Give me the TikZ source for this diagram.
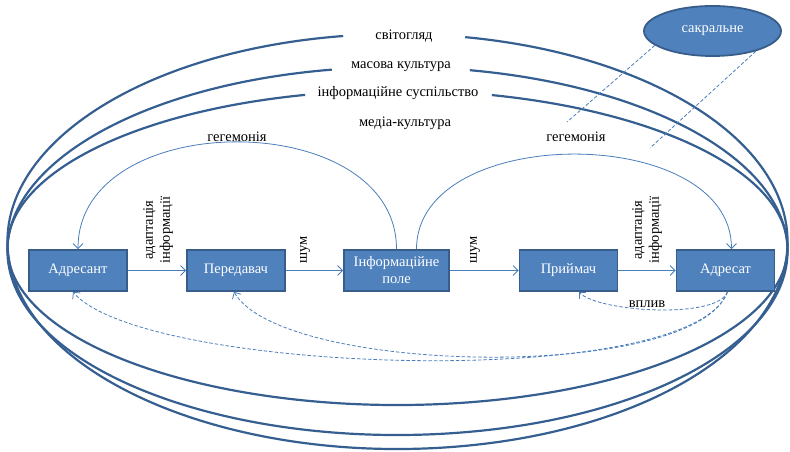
\documentclass[tikz,border=0pt]{standalone}
\usepackage{fontspec}
\setmainfont{Liberation Serif}
\usetikzlibrary{positioning, arrows.meta, shapes.geometric}

\definecolor{boxfill}{RGB}{79,129,189}
\definecolor{boxline}{RGB}{56,93,138}
\definecolor{ringline}{RGB}{54,95,145}
\definecolor{linkline}{RGB}{74,126,187}

\newcommand{\labfont}{\fontsize{14.5}{17}\selectfont}

\begin{document}
\begin{tikzpicture}[
  x=1pt, y=1pt,
  box/.style={draw=boxline, fill=boxfill, line width=1.8pt, minimum width=98pt, minimum height=41pt, align=center, text=white, font=\labfont},
  label/.style={font=\labfont, inner sep=1pt},
  vlabel/.style={font=\labfont, rotate=90, align=center, inner sep=1pt},
  ring/.style={draw=ringline, line width=2.2pt},
  arrow/.style={-{Straight Barb[length=5pt, width=10pt]}, draw=linkline, line width=0.8pt},
  dlink/.style={arrow, dash pattern=on 3.5pt off 2pt}
]
  \useasboundingbox (0,0) rectangle (790,452);

  % outer rings
  \coordinate (ringA) at (397.5,210.5);
  \coordinate (ringB) at (397.5,201);
  \coordinate (ringC) at (397.5,204.3);
  \draw[ring] (ringA) ++(98:390pt and 207.5pt) arc[start angle=98, end angle=440, x radius=390pt, y radius=207.5pt];
  \draw[ring] (ringB) ++(99.7:390pt and 184pt) arc[start angle=99.7, end angle=439.3, x radius=390pt, y radius=184pt];
  \draw[ring] (ringC) ++(103.7:390pt and 157.3pt) arc[start angle=103.7, end angle=436, x radius=390pt, y radius=157.3pt];

  % ring labels
  \node[label] (world) at (404,416) {світогляд};
  \node[label] (mass) at (401,385) {масова культура};
  \node[label] (soc) at (398,359) {інформаційне суспільство};
  \node[label] (media) at (405,329) {медіа-культура};

  % sacral
  \node[ellipse, draw=boxline, fill=boxfill, line width=1.8pt, minimum width=137pt, minimum height=50pt, text=white, font=\labfont] (sacr) at (712.5,421) {сакральне};
  \coordinate (sacrA) at (567,330);
  \coordinate (sacrB) at (650,304);
  \draw[draw=linkline, line width=0.8pt, dash pattern=on 3.5pt off 2pt] (sacr.194) -- (sacrA);
  \draw[draw=linkline, line width=0.8pt, dash pattern=on 3.5pt off 2pt] (sacr.-25) -- (sacrB);

  % chain of boxes
  \node[box] (adr) at (78,181.5) {Адресант};
  \node[box] (trans) at (236,181.5) {Передавач};
  \node[box, minimum width=105pt] (info) at (396.5,181.5) {Інформаційне\\поле};
  \node[box] (recv) at (568.5,181.5) {Приймач};
  \node[box] (adrt) at (725.5,181.5) {Адресат};

  \draw[arrow] (adr) -- (trans);
  \draw[arrow] (trans) -- (info);
  \draw[arrow] (info) -- (recv);
  \draw[arrow] (recv) -- (adrt);

  \node[vlabel] (adapt1) at (158,222) {адаптація\\інформації};
  \node[vlabel] (noise1) at (305,202) {шум};
  \node[vlabel] (noise2) at (475,202) {шум};
  \node[vlabel] (adapt2) at (647,222) {адаптація\\інформації};

  % hegemony
  \draw[arrow] (info.north) to[out=90, in=90, looseness=1.15] (adr.north);
  \draw[arrow] ([xshift=20pt]info.north) to[out=90, in=90, looseness=1.03] ([xshift=6pt]adrt.north);
  \node[label] (heg1) at (237,315) {гегемонія};
  \node[label] (heg2) at (576,315) {гегемонія};

  % feedback
  \draw[dlink] ([xshift=2pt]adrt.south) to[out=-110, in=-45, looseness=0.5] ([xshift=10pt]recv.south);
  \draw[dlink] ([xshift=2pt]adrt.south) to[out=-110, in=-60, looseness=0.5] ([xshift=-2pt]trans.south);
  \draw[dlink] ([xshift=2pt]adrt.south) to[out=-110, in=-50, looseness=0.42] ([xshift=-5pt]adr.south);
  \node[label] (infl) at (647,148) {вплив};
\end{tikzpicture}
\end{document}
